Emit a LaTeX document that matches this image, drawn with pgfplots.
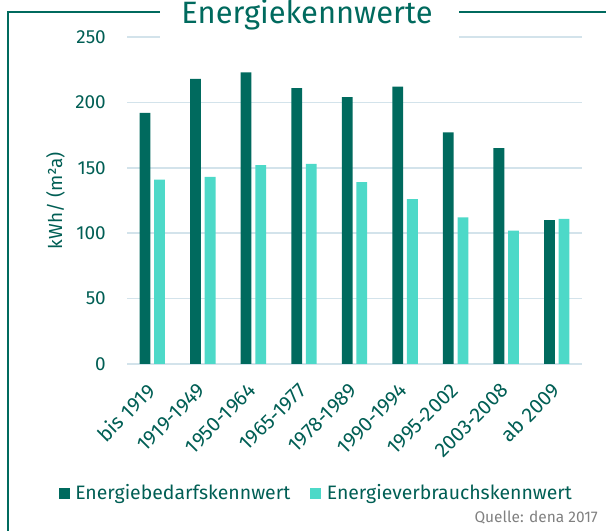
\documentclass[border=0pt]{standalone}
\usepackage{fontspec}
\setmainfont{Fira Sans}
\usepackage{pgfplots}
\pgfplotsset{compat=1.18}
\definecolor{darkteal}{HTML}{006A5E}
\definecolor{lightteal}{HTML}{4DD9C8}
\definecolor{gridc}{HTML}{D3E3EB}
\definecolor{txt}{HTML}{005E54}
\begin{document}
\begin{tikzpicture}[x=1bp,y=1bp]
\useasboundingbox (0,0) rectangle (606,531);
\begin{axis}[
  scale only axis, width=455bp, height=327bp,
  at={(127bp,167bp)}, anchor=south west,
  xmin=-0.5, xmax=8.5, ymin=0, ymax=250,
  ytick={0,50,...,250},
  xtick={0,...,8},
  xticklabels={bis 1919,1919-1949,1950-1964,1965-1977,1978-1989,1990-1994,1995-2002,2003-2008,ab 2009},
  axis line style={draw=none},
  major tick length=0pt,
  ymajorgrids, grid style={gridc, line width=1.5bp},
  ybar=3.8bp, bar width=10.8bp,
  /pgf/number format/assume math mode=true,
  tick label style={text=txt},
  yticklabel style={font=\fontsize{19}{19}\selectfont, anchor=east, inner sep=0pt, xshift=-21bp},
  xticklabel style={font=\fontsize{20.5}{20.5}\selectfont, xshift=-1bp, yshift=-23bp, rotate=45, anchor=east, inner sep=0pt},
  ylabel={kWh/ (m²a)},
  ylabel style={font=\fontsize{19}{19}\selectfont, text=txt, at={(axis description cs:-0.157,0.5)}, rotate=0, anchor=center},
  legend style={draw=none, fill=none, at={(axis description cs:0.414,-0.395)}, anchor=center,
    font=\fontsize{19.5}{19.5}\selectfont, text=txt, legend columns=2,
    nodes={inner sep=0pt},
    /tikz/every odd column/.append style={column sep=5.5bp},
    /tikz/every even column/.append style={column sep=20bp}},
  legend image code/.code={\fill[#1] (0bp,-5.5bp) rectangle (11bp,5.5bp);},
]
\addplot[fill=darkteal, draw=none] coordinates {(0,192) (1,218) (2,223) (3,211) (4,204) (5,212) (6,177) (7,165) (8,110)};
\addplot[fill=lightteal, draw=none] coordinates {(0,141) (1,143) (2,152) (3,153) (4,139) (5,126) (6,112) (7,102) (8,111)};
\legend{Energiebedarfskennwert,Energieverbrauchskennwert}
\end{axis}
\fill[white] (160,489) rectangle (459,531);
\draw[darkteal, line width=2bp] (7.7,0) -- (7.7,519.4) -- (160,519.4);
\draw[darkteal, line width=2bp] (459,519.4) -- (610,519.4);
\node[anchor=base, font=\fontsize{31}{31}\selectfont, text=darkteal, inner sep=0pt] at (307,507) {Energiekennwerte};
\node[anchor=base east, font=\fontsize{15.5}{15.5}\selectfont, text=gray, inner sep=0pt] at (598,8) {Quelle: dena 2017};
\end{tikzpicture}
\end{document}
